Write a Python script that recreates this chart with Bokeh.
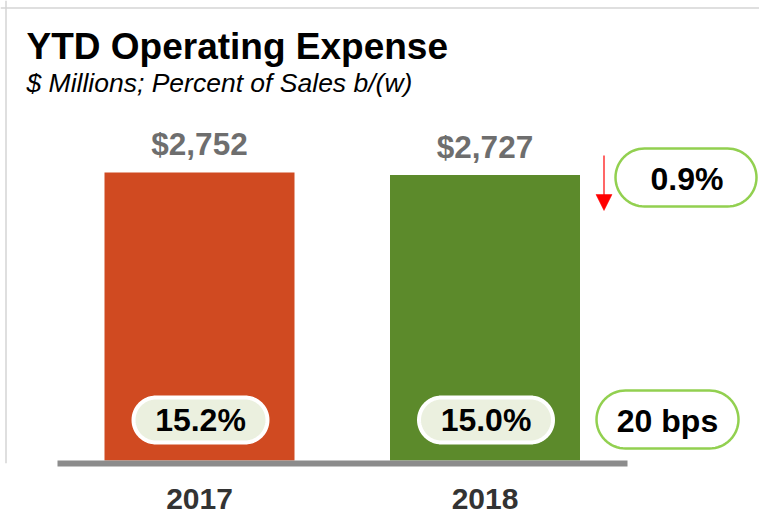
import math
from bokeh.plotting import figure
from bokeh.models import Range1d, FixedTicker, ColumnDataSource, Span
from bokeh.core.properties import value
from bokeh.embed import file_html
from bokeh.resources import INLINE

# ---- data ----
years = ["2017", "2018"]
opex = [2752, 2727]                 # $ millions
pct_of_sales = [15.2, 15.0]         # percent of sales
opex_change_pct = 0.9               # YTD opex change, decrease
pct_change_bps = 20                 # percent-of-sales change, bps

bar_colors = ["#D04A21", "#5C8A2B"]
FONT = value("Liberation Sans")

# ---- geometry helpers (picture pixel -> data) ----
PX_PER_CAT = 285.5
CAT0_X = 199.0
PX_PER_UNIT = 0.104651
ZERO_Y = 460.0
W, H = 759, 515
FRAME_BOTTOM = 463


def dx(px):
    return (px - CAT0_X) / PX_PER_CAT


def dy(py):
    return (ZERO_Y - py) / PX_PER_UNIT


def pill(l, r, t, b, n=32):
    """Stadium outline given in picture pixels, returned in data units."""
    rad = (b - t) / 2.0
    cy = (t + b) / 2.0
    xs, ys = [], []
    for k in range(n + 1):
        a = -math.pi / 2 + math.pi * k / n
        xs.append(r - rad + rad * math.cos(a)); ys.append(cy + rad * math.sin(a))
    for k in range(n + 1):
        a = math.pi / 2 + math.pi * k / n
        xs.append(l + rad + rad * math.cos(a)); ys.append(cy + rad * math.sin(a))
    return [dx(v) for v in xs], [dy(v) for v in ys]


x_range = Range1d(dx(0), dx(W))
y_range = Range1d(dy(FRAME_BOTTOM), dy(0))

p = figure(width=W, height=H, x_range=x_range, y_range=y_range,
           output_backend="svg", toolbar_location=None,
           y_axis_location=None, min_border_left=0, min_border_right=0,
           min_border_top=0, min_border_bottom=H - FRAME_BOTTOM)
p.outline_line_color = None
p.xgrid.visible = False
p.ygrid.visible = False
p.background_fill_color = "white"
p.border_fill_color = "white"

# light frame lines (top and left)
p.add_layout(Span(location=dy(7.5), dimension="width",
                  line_color="#d4d4d4", line_width=1.5))
p.add_layout(Span(location=dx(5.5), dimension="height",
                  line_color="#d4d4d4", line_width=1.5))

idx = list(range(len(years)))

# bars
src = ColumnDataSource(dict(x=idx, top=opex, color=bar_colors,
                            label=[f"${v:,}" for v in opex],
                            pct=[f"{v:.1f}%" for v in pct_of_sales]))
p.vbar(x="x", top="top", bottom=0, width=190 / PX_PER_CAT, color="color",
       line_color=None, source=src)

# x axis: category labels + grey baseline
ax = p.xaxis[0]
ax.ticker = FixedTicker(ticks=idx)
ax.major_label_overrides = {i: y for i, y in zip(idx, years)}
ax.bounds = (dx(57), dx(627))
ax.axis_line_color = "#8c8c8c"
ax.axis_line_width = 6
ax.major_tick_line_color = None
ax.minor_tick_line_color = None
ax.major_tick_in = 0
ax.major_tick_out = 0
ax.major_label_standoff = 25
ax.major_label_text_font = "Liberation Sans"
ax.major_label_text_font_style = "bold"
ax.major_label_text_font_size = "30px"
ax.major_label_text_color = "#333333"

# value labels above bars
p.text(x="x", y="top", text="label", source=src, y_offset=-28.5,
       text_font=FONT, text_font_style="bold", text_font_size="31.5px",
       text_color="#6e6e6e", text_align="center", text_baseline="middle")

# percent-of-sales pills inside bars
for i in idx:
    cx = CAT0_X + PX_PER_CAT * i + 1
    px_, py_ = pill(cx - 67, cx + 67, 397, 442)
    p.patch(px_, py_, fill_color="#EBF0DF", line_color="white", line_width=4)
p.text(x="x", y=dy(419.5), text="pct", source=src, x_offset=1,
       text_font=FONT, text_font_style="bold", text_font_size="32px",
       text_color="black", text_align="center", text_baseline="middle")

# right-side change pills
for (l, r, t, b) in [(615, 756, 148, 206), (596, 738, 390, 448)]:
    px_, py_ = pill(l, r, t, b)
    p.patch(px_, py_, fill_color="white", line_color="#92D050", line_width=2.5)
p.text(x=[dx(686.5), dx(667)], y=[dy(178), dy(420)],
       text=[f"{opex_change_pct:.1f}%", f"{pct_change_bps} bps"],
       text_font=FONT, text_font_style="bold", text_font_size="32px",
       text_color="black", text_align="center", text_baseline="middle")

# red down arrow
p.segment(x0=[dx(603.5)], y0=[dy(155)], x1=[dx(603.5)], y1=[dy(196)],
          line_color="red", line_width=1.2)
p.patch(x=[dx(595.5), dx(611.5), dx(603.5)], y=[dy(194), dy(194), dy(210)],
        fill_color="red", line_color="red", line_width=0.5)

# title & subtitle
p.text(x=[dx(26)], y=[dy(46.3)], text=["YTD Operating Expense"],
       text_font=FONT, text_font_style="bold", text_font_size="37px",
       text_color="black", text_align="left", text_baseline="middle")
p.text(x=[dx(26)], y=[dy(82)], text=["$ Millions; Percent of Sales b/(w)"],
       text_font=FONT, text_font_style="italic", text_font_size="26.5px",
       text_color="black", text_align="left", text_baseline="middle")

open("out.html", "w").write(file_html(p, INLINE))
